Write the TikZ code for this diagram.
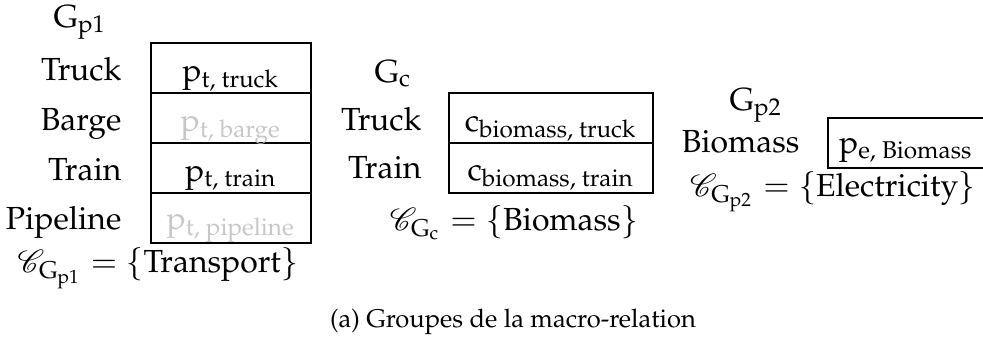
\documentclass[tikz,border=0pt]{standalone}
\usepackage[T1]{fontenc}
\usepackage{amsmath}
\usepackage{mathpazo}
\usepackage{mathrsfs}
\usepackage{tikz}
\tikzset{
	lbl/.style={anchor=base east, inner sep=0pt},
	txt/.style={anchor=base, inner sep=0pt},
	off/.style={color=black!22}
}
\newcommand{\rG}{\mathrm{G}}

\begin{document}
\begin{tikzpicture}[x=0.011cm, y=-0.011cm, line width=0.4pt]
			%%%%% START %%%%%
			\useasboundingbox (0,0) rectangle (983,338);
			
			% group p1
			\node[txt] (gpone) at (80, 27) {$\rG_{\mathrm{p1}}$};
			\draw (151, 43) rectangle (311, 93);
			\draw (151, 93) rectangle (311, 143);
			\draw (151, 143) rectangle (311, 193);
			\draw (151, 193) rectangle (311, 243);
			\node[lbl] (ltruck) at (122, 80) {Truck};
			\node[lbl] (lbarge) at (122, 130) {Barge};
			\node[lbl] (ltrain) at (122, 180) {Train};
			\node[lbl] (lpipe) at (122, 229) {Pipeline};
			\node[txt] (ptruck) at (231, 81) {$\mathrm{p}_{\text{t, truck}}$};
			\node[txt, off] (pbarge) at (231, 131) {$\mathrm{p}_{\text{t, barge}}$};
			\node[txt] (ptrain) at (231, 181) {$\mathrm{p}_{\text{t, train}}$};
			\node[txt, off] (ppipe) at (231, 229) {$\mathrm{p}_{\text{t, pipeline}}$};
			\node[txt] (cpone) at (158, 272) {$\mathscr{C}_{\rG_{\mathrm{p1}}} = \{\text{Transport}\}$};
			
			% group c
			\node[txt] (gc) at (393, 82) {$\rG_{\mathrm{c}}$};
			\draw (449, 93) rectangle (653, 143);
			\draw (449, 143) rectangle (653, 193);
			\node[lbl] (ctruck) at (422, 130) {Truck};
			\node[lbl] (ctrain) at (422, 178) {Train};
			\node[txt] (cbtruck) at (551, 131) {$\mathrm{c}_{\text{biomass, truck}}$};
			\node[txt] (cbtrain) at (551, 180) {$\mathrm{c}_{\text{biomass, train}}$};
			\node[txt] (cgc) at (514, 230) {$\mathscr{C}_{\rG_{\mathrm{c}}} = \{\text{Biomass}\}$};
			
			% group p2
			\node[txt] (gptwo) at (756, 110) {$\rG_{\mathrm{p2}}$};
			\draw (983, 118) -- (828, 118) -- (828, 168) -- (983, 168);
			\node[lbl] (lbio) at (800, 152) {Biomass};
			\node[txt] (pebio) at (906, 153) {$\mathrm{p}_{\text{e, Biomass}}$};
			\node[txt] (cptwo) at (833, 196) {$\mathscr{C}_{\rG_{\mathrm{p2}}} = \{\text{Electricity}\}$};
			
			\node[txt, font=\footnotesize] (capt) at (513, 327) {(a) Groupes de la macro-relation};
			%%%%% END %%%%%
\end{tikzpicture}
\end{document}
